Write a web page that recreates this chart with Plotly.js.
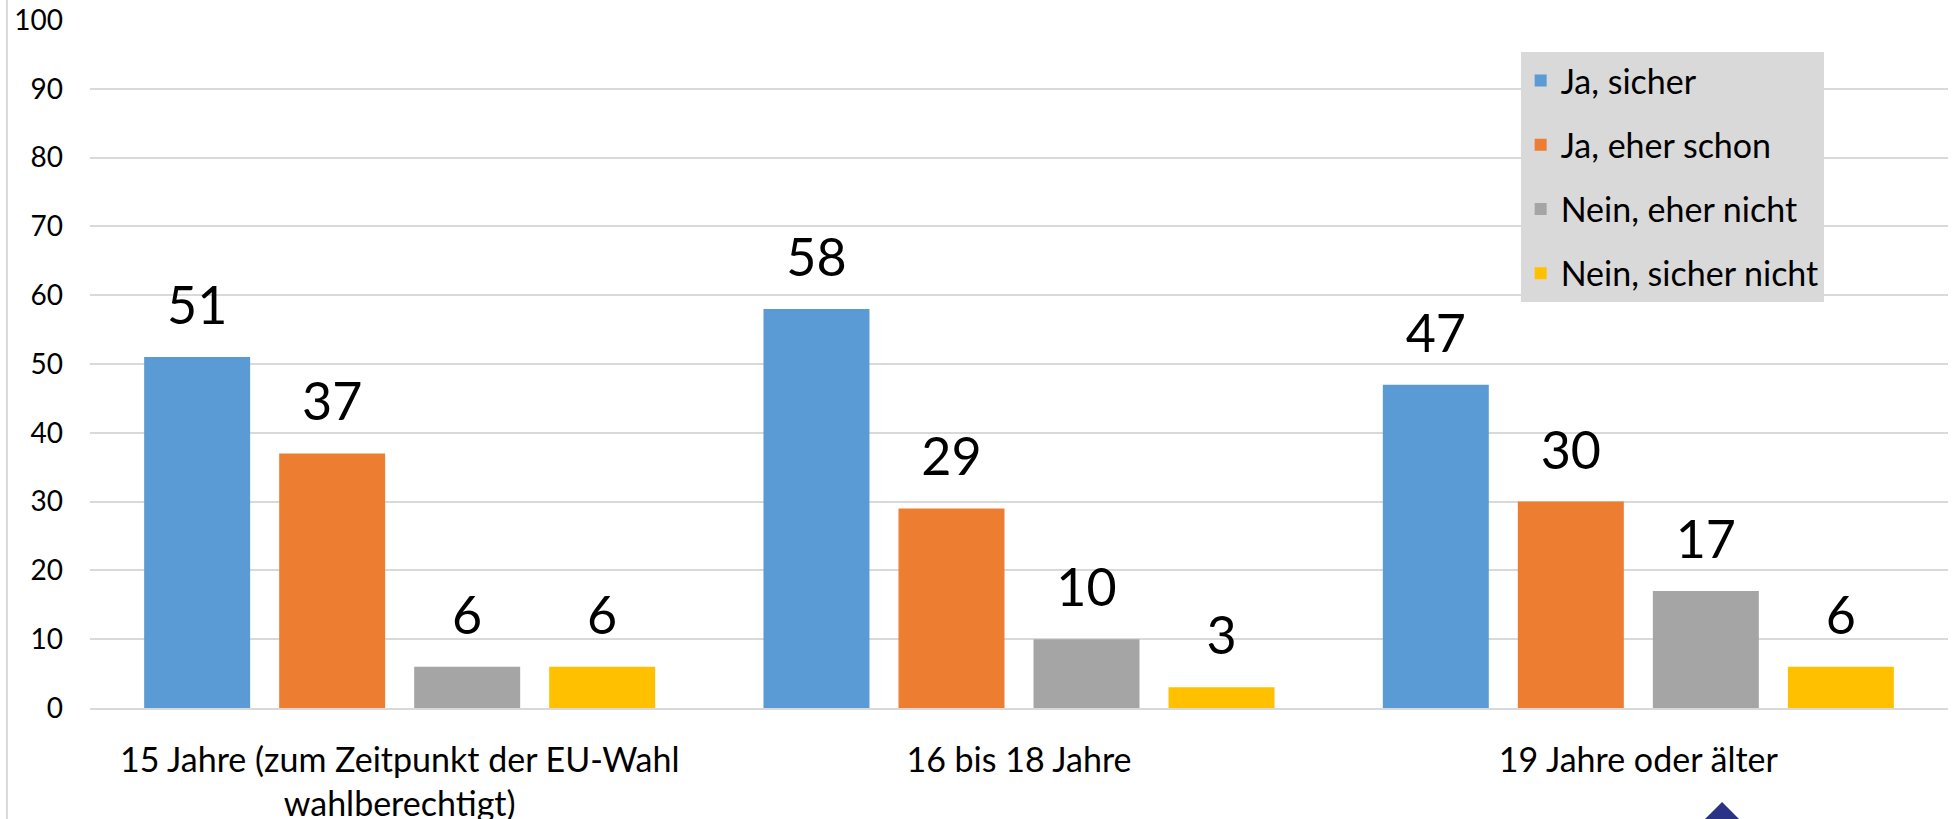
<!DOCTYPE html>
<html>
<head>
<meta charset="utf-8">
<script src="https://cdn.plot.ly/plotly-3.0.1.min.js"></script>
<style>
  html, body { margin: 0; padding: 0; background: #ffffff; }
  #chart { width: 1958px; height: 819px; }
</style>
</head>
<body>
<div id="chart"></div>
<script>
// ---- data ----
const categories = [
  "15 Jahre (zum Zeitpunkt der EU-Wahl<br>wahlberechtigt)",
  "16 bis 18 Jahre",
  "19 Jahre oder älter"
];
const seriesNames = ["Ja, sicher", "Ja, eher schon", "Nein, eher nicht", "Nein, sicher nicht"];
const jaSicher        = [51, 58, 47];
const jaEherSchon     = [37, 29, 30];
const neinEherNicht   = [6, 10, 17];
const neinSicherNicht = [6, 3, 6];
const yTicks = [0, 10, 20, 30, 40, 50, 60, 70, 80, 90, 100];

const seriesValues = [jaSicher, jaEherSchon, neinEherNicht, neinSicherNicht];
const colors = ["#5b9bd5", "#ed7d31", "#a5a5a5", "#ffc000"];
const FONT = "Lato, 'Open Sans', 'Liberation Sans', sans-serif";

const traces = seriesValues.map((vals, i) => ({
  type: "bar",
  name: seriesNames[i],
  x: categories,
  y: vals,
  marker: { color: colors[i], line: { width: 0 } },
  // big value on first line, a small spacer line below lifts it off the bar
  texttemplate: "<span style='font-size:52px'>%{y}</span><br>&nbsp;",
  textposition: "outside",
  textangle: 0,
  constraintext: "none",
  cliponaxis: false,
  textfont: { family: FONT, size: 20, color: "#000000" },
  legendgroup: "g" + i,
  hoverinfo: "x+y+name"
}));

const layout = {
  width: 1958,
  height: 819,
  margin: { l: 90, r: 10, t: 20, b: 111, pad: 0 },
  paper_bgcolor: "#ffffff",
  plot_bgcolor: "#ffffff",
  font: { family: FONT, color: "#000000" },
  barmode: "group",
  bargap: 0.128,
  bargroupgap: 0.215,
  showlegend: true,
  legend: {
    x: 0.770, y: 0.9535,
    xanchor: "left", yanchor: "top",
    bgcolor: "#d9d9d9",
    borderwidth: 0,
    font: { family: FONT, size: 34, color: "#000000" },
    traceorder: "grouped",
    tracegroupgap: 17,
    itemclick: false,
    itemdoubleclick: false
  },
  xaxis: {
    type: "category",
    showgrid: false,
    showline: true,
    linecolor: "#d9d9d9",
    linewidth: 2,
    ticks: "",
    ticklabelstandoff: 21,
    tickfont: { family: FONT, size: 34, color: "#000000" },
    fixedrange: true
  },
  yaxis: {
    range: [0, 100],
    tickvals: yTicks,
    ticktext: yTicks.map(String),
    showgrid: true,
    gridcolor: "#d9d9d9",
    gridwidth: 2,
    zeroline: false,
    showline: false,
    ticks: "",
    ticklabelstandoff: 26,
    tickfont: { family: FONT, size: 28, color: "#000000" },
    fixedrange: true
  },
  shapes: [
    {
      type: "line", xref: "paper", yref: "paper",
      x0: -0.0447, x1: -0.0447, y0: -0.2, y1: 1.05,
      line: { color: "#d9d9d9", width: 2 }
    },
    {
      type: "path", xref: "paper", yref: "paper",
      path: "M 0.8784 -0.1366 L 0.8988 -0.1919 L 0.8784 -0.2471 L 0.8579 -0.1919 Z",
      fillcolor: "#2b3386",
      line: { width: 0 }
    }
  ]
};

Plotly.newPlot("chart", traces, layout, { displayModeBar: false, responsive: false });
</script>
</body>
</html>
